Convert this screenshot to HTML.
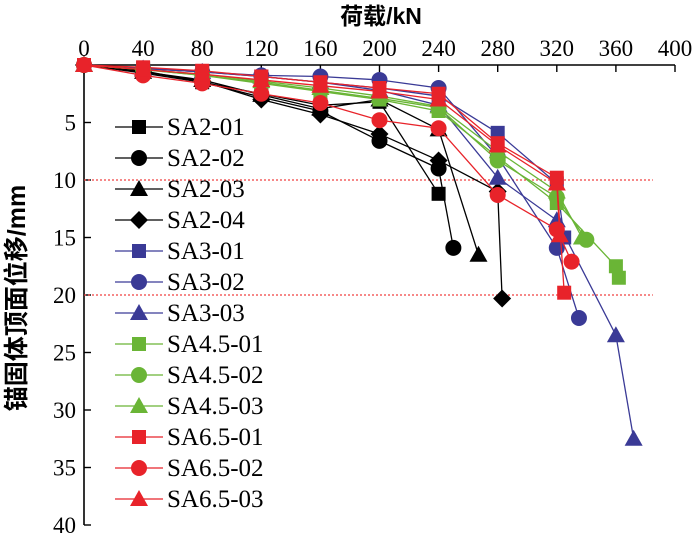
<!DOCTYPE html>
<html><head><meta charset="utf-8"><style>
body{margin:0;background:#fff}
svg text{font-family:"Liberation Serif","Noto Serif CJK SC",serif;fill:#000}
</style></head><body>
<svg id="c" width="700" height="535" xmlns="http://www.w3.org/2000/svg">
<g id="axes"></g><g id="plot"></g><g id="legend"></g>
<text x="381" y="24" font-size="23" text-anchor="middle" font-weight="bold" style='font-family:"Liberation Sans","Noto Sans CJK SC",sans-serif'>荷载/kN</text>
<text transform="translate(25,298) rotate(-90)" font-size="25" text-anchor="middle" font-weight="bold" style='font-family:"Liberation Sans","Noto Sans CJK SC",sans-serif'>锚固体顶面位移/mm</text>
</svg>
<script>
const xTicks=[0,40,80,120,160,200,240,280,320,360,400];
const yTicks=[5,10,15,20,25,30,35,40];
const refLines=[10,20];
const names=["SA2-01","SA2-02","SA2-03","SA2-04","SA3-01","SA3-02","SA3-03","SA4.5-01","SA4.5-02","SA4.5-03","SA6.5-01","SA6.5-02","SA6.5-03"];
const colors=["#000","#000","#000","#000","#3a3a96","#3a3a96","#3a3a96","#6ab536","#6ab536","#6ab536","#e8232a","#e8232a","#e8232a"];
const shapes=["sq","ci","tr","di","sq","ci","tr","sq","ci","tr","sq","ci","tr"];
const loads=[
[0,40,80,120,160,200,240],
[0,40,80,120,160,200,240,250],
[0,40,80,120,160,200,240,267],
[0,40,80,120,160,200,240,280,283],
[0,40,80,120,160,200,240,280,320,325],
[0,40,80,120,160,200,240,280,320,335],
[0,40,80,120,160,200,240,280,320,360,372],
[0,40,80,120,160,200,240,280,320,360,362],
[0,40,80,120,160,200,240,280,320,340],
[0,40,80,120,160,200,240,280,320,337],
[0,40,80,120,160,200,240,280,320,325],
[0,40,80,120,160,200,240,280,320,330],
[0,40,80,120,160,200,240,280,320,322]];
const disps=[
[0,0.5,1.5,2.5,3.5,3.2,11.2],
[0,0.7,1.5,2.8,4.0,6.6,9.0,15.9],
[0,0.6,1.3,2.6,3.8,3.0,5.6,16.5],
[0,0.6,1.4,3.0,4.3,6.0,8.3,11.0,20.3],
[0,0.3,0.6,1.0,1.5,2.0,2.7,5.9,10.3,15.0],
[0,0.3,0.6,0.9,1.0,1.3,2.0,8.0,15.9,22.0],
[0,0.3,0.6,1.0,1.5,2.2,3.5,9.8,13.5,23.5,32.5],
[0,0.4,0.9,1.6,2.3,3.0,4.0,8.0,12.0,17.5,18.5],
[0,0.4,0.9,1.5,2.2,2.9,3.7,8.3,11.5,15.2],
[0,0.4,0.8,1.4,2.0,2.7,3.6,7.5,11.0,15.0],
[0,0.2,0.5,1.0,1.5,2.0,2.5,6.8,9.8,19.8],
[0,0.9,1.6,2.5,3.3,4.8,5.5,11.3,14.3,17.1],
[0,0.4,0.8,1.3,1.8,2.3,3.0,7.0,10.3,14.8]];
const X0=84,X1=675,Y0=65,Y1=525;
const xs=v=>X0+(v/400)*(X1-X0), ys=v=>Y0+(v/40)*(Y1-Y0);
const NS="http://www.w3.org/2000/svg";
function mk(t,a,p){const e=document.createElementNS(NS,t);for(const k in a)e.setAttribute(k,a[k]);p.appendChild(e);return e;}
const ax=document.getElementById('axes'),pl=document.getElementById('plot'),lg=document.getElementById('legend');
let e=mk('line',{x1:X0,y1:Y0,x2:X1,y2:Y0,stroke:'#000','stroke-width':1.6},ax);

e=mk('line',{x1:X0,y1:Y0,x2:X0,y2:Y1,stroke:'#000','stroke-width':1.6},ax);

xTicks.forEach(v=>{mk('line',{x1:xs(v),y1:Y0,x2:xs(v),y2:Y0+7,stroke:'#000','stroke-width':1.4},ax);
 const t=mk('text',{x:xs(v),y:Y0-9,'font-size':23,'text-anchor':'middle'},ax);t.textContent=v;
 });
yTicks.forEach(v=>{mk('line',{x1:X0,y1:ys(v),x2:X0+7,y2:ys(v),stroke:'#000','stroke-width':1.4},ax);
 const t=mk('text',{x:X0-8,y:ys(v)+8,'font-size':23,'text-anchor':'end'},ax);t.textContent=v;
 });
refLines.forEach(v=>{const l=mk('line',{x1:X0,y1:ys(v),x2:xs(385),y2:ys(v),stroke:'#f04040','stroke-width':1.2,'stroke-dasharray':'2,2'},ax);
 });
function marker(s,x,y,c,p){let m;
 if(s=='sq')m=mk('rect',{x:x-7,y:y-7,width:14,height:14,fill:c},p);
 else if(s=='ci')m=mk('circle',{cx:x,cy:y,r:8,fill:c},p);
 else if(s=='tr')m=mk('polygon',{points:`${x},${y-9} ${x+9},${y+7} ${x-9},${y+7}`,fill:c},p);
 else m=mk('polygon',{points:`${x},${y-9} ${x+9},${y} ${x},${y+9} ${x-9},${y}`,fill:c},p);
 return m;}
names.forEach((n,i)=>{
 const g=mk('g',{},pl);
 const pts=loads[i].map((v,j)=>xs(v)+','+ys(disps[i][j])).join(' ');
 mk('polyline',{points:pts,fill:'none',stroke:colors[i],'stroke-width':1.3},g);
 loads[i].forEach((v,j)=>{const m=marker(shapes[i],xs(v),ys(disps[i][j]),colors[i],g);
  });
 const ly=127+i*31;
 const lgE=mk('g',{},lg);
 mk('line',{x1:115,y1:ly,x2:163,y2:ly,stroke:colors[i],'stroke-width':1.3},lgE);
 marker(shapes[i],139,ly,colors[i],lgE);
 const t=mk('text',{x:167,y:ly+8,'font-size':25},lgE);t.textContent=n;
});
</script>
</body></html>
